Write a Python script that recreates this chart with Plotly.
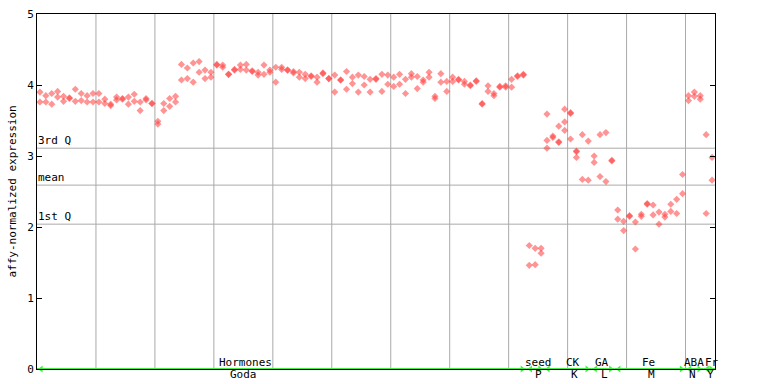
import plotly.graph_objects as go

# ---- data ----
rep1 = [3.90, 3.85, 3.88, 3.91, 3.84, 3.82, 3.94, 3.88, 3.85, 3.88,
        3.88, 3.80, 3.73, 3.83, 3.81, 3.83, 3.87, 3.76, 3.81, 3.74,
        3.49, 3.74, 3.81, 3.84, 4.29, 4.24, 4.31, 4.33, 4.21, 4.18,
        4.29, 4.28, 4.15, 4.22, 4.28, 4.29, 4.20, 4.18, 4.28, 4.21,
        4.25, 4.25, 4.21, 4.19, 4.18, 4.15, 4.13, 4.11, 4.17, 4.09,
        4.14, 4.07, 4.19, 4.11, 4.14, 4.12, 4.08, 4.09, 4.15, 4.14,
        4.11, 4.15, 4.08, 4.16, 4.12, 4.07, 4.18, 3.84, 4.16, 4.05,
        4.11, 4.08, 4.05, 4.00, 4.06, 3.74, 3.99, 3.88, 3.98, 3.99,
        4.08, 4.13, 4.15, 1.74, 1.70, 1.70, 3.59, 3.28, 3.42, 3.66,
        3.61, 3.07, 3.30, 3.21, 3.00, 3.30, 3.33, 2.94, 2.24, 2.08,
        2.16, 2.07, 2.18, 2.33, 2.31, 2.21, 2.18, 2.32, 2.39, 2.74,
        3.85, 3.90, 3.85, 3.30, 2.98]
rep2 = [3.76, 3.76, 3.73, 3.83, 3.77, 3.81, 3.77, 3.78, 3.76, 3.76,
        3.76, 3.74, 3.71, 3.79, 3.80, 3.73, 3.77, 3.64, 3.79, 3.74,
        3.45, 3.64, 3.70, 3.76, 4.07, 4.09, 4.04, 4.18, 4.09, 4.11,
        4.28, 4.25, 4.15, 4.21, 4.22, 4.21, 4.19, 4.14, 4.15, 4.18,
        4.04, 4.22, 4.21, 4.17, 4.11, 4.09, 4.12, 4.04, 4.16, 4.09,
        3.90, 4.07, 3.94, 4.02, 3.90, 4.00, 3.90, 4.08, 3.91, 4.01,
        3.98, 4.01, 3.88, 4.11, 3.95, 4.04, 4.11, 3.81, 4.04, 3.91,
        4.05, 4.07, 4.01, 3.99, 4.05, 3.73, 3.91, 3.85, 3.97, 3.97,
        3.97, 4.12, 4.14, 1.46, 1.47, 1.63, 3.22, 3.26, 3.19, 3.48,
        3.24, 2.98, 2.67, 2.66, 2.91, 2.71, 2.64, 2.93, 2.11, 1.95,
        2.15, 1.69, 2.15, 2.32, 2.17, 2.04, 2.14, 2.22, 2.19, 2.47,
        3.78, 3.84, 3.80, 2.19, 2.66]
# third replicate (only where visible)
rep3 = {87: 3.11, 89: 3.20, 90: 3.36, 91: 3.60, 92: 3.06}

group_names = ["Hormones", "seed", "CK", "GA", "Fe", "ABA", "Fr"]
group_codes = ["Goda", "P", "K", "L", "M", "N", "Y"]
group_bounds = [(0, 83), (83, 86), (86, 94), (94, 98), (98, 110), (110, 113), (113, 115)]
group_label_x = [35.3, 85.0, 90.9, 95.8, 103.8, 111.5, 114.5]
group_code_x = [35.0, 85.1, 91.2, 96.2, 104.2, 111.2, 114.2]

q_lines = [("3rd Q", 3.11), ("mean", 2.59), ("1st Q", 2.04)]
y_ticks = [0, 1, 2, 3, 4, 5]
n_samples = len(rep1)

MONO = "DejaVu Sans Mono"
PT = "rgba(255,60,60,0.55)"
GREEN = "#44ee44"
GRID = "#aaaaaa"

fig = go.Figure()

xs = [i + 0.5 for i in range(n_samples)]
for reps in (rep1, rep2):
    fig.add_trace(go.Scatter(x=xs, y=reps, mode="markers",
                             marker=dict(symbol="diamond", size=5.5, color=PT, line=dict(width=0)),
                             showlegend=False, hoverinfo="skip"))
fig.add_trace(go.Scatter(x=[k - 0.5 for k in rep3], y=list(rep3.values()), mode="markers",
                         marker=dict(symbol="diamond", size=5.5, color=PT, line=dict(width=0)),
                         showlegend=False, hoverinfo="skip"))

shapes = []
for gx in range(10, 115, 10):
    shapes.append(dict(type="line", xref="x", yref="paper", x0=gx, x1=gx, y0=0, y1=1,
                       line=dict(color=GRID, width=1), layer="below"))
annotations = []
for name, val in q_lines:
    shapes.append(dict(type="line", xref="paper", yref="y", x0=0, x1=1, y0=val, y1=val,
                       line=dict(color=GRID, width=1), layer="below"))
    annotations.append(dict(x=0, xref="x", y=val, yref="y", text=name, showarrow=False,
                            xanchor="left", yanchor="bottom", xshift=-1, yshift=-1,
                            font=dict(family=MONO, size=11, color="black")))

# group lines with arrows
for (a, b) in group_bounds:
    fig.add_trace(go.Scatter(x=[a, b], y=[0, 0], mode="lines", line=dict(color=GREEN, width=2),
                             cliponaxis=False, showlegend=False, hoverinfo="skip"))
    fig.add_trace(go.Scatter(x=[a + 0.7, b - 0.7], y=[0, 0], mode="markers",
                             marker=dict(symbol=["triangle-left", "triangle-right"], size=6, color=GREEN),
                             cliponaxis=False, showlegend=False, hoverinfo="skip"))

for name, code, lx, cx in zip(group_names, group_codes, group_label_x, group_code_x):
    annotations.append(dict(x=lx, xref="x", y=0, yref="paper", text=name, showarrow=False,
                            xanchor="center", yanchor="bottom", yshift=-2,
                            font=dict(family=MONO, size=11, color="black")))
    annotations.append(dict(x=cx, xref="x", y=0, yref="paper", text=code, showarrow=False,
                            xanchor="center", yanchor="top", yshift=2, borderpad=0,
                            font=dict(family=MONO, size=11, color="black")))

annotations.append(dict(x=-25 / 678, xref="paper", y=0.5, yref="paper",
                        text="affy-normalized expression", textangle=-90, showarrow=False,
                        xanchor="center", yanchor="middle",
                        font=dict(family=MONO, size=11, color="black")))

fig.update_layout(
    width=768, height=384,
    margin=dict(l=37, r=53, t=14, b=15, autoexpand=False),
    paper_bgcolor="white", plot_bgcolor="white",
    shapes=shapes, annotations=annotations,
    xaxis=dict(range=[0, 115], showgrid=False, zeroline=False, showticklabels=False,
               ticks="", showline=True, linecolor="black", linewidth=1, mirror=True,
               automargin=False),
    yaxis=dict(range=[0, 5], tickvals=y_ticks, ticks="inside", ticklen=5, tickcolor="black",
               showgrid=False, zeroline=False, showline=True, linecolor="black", linewidth=1,
               mirror="ticks", automargin=False,
               tickfont=dict(family=MONO, size=11, color="black")),
)

fig.write_html("out.html", config={"displayModeBar": False},
               post_script="document.body.style.margin='0';document.body.style.overflow='hidden';")
